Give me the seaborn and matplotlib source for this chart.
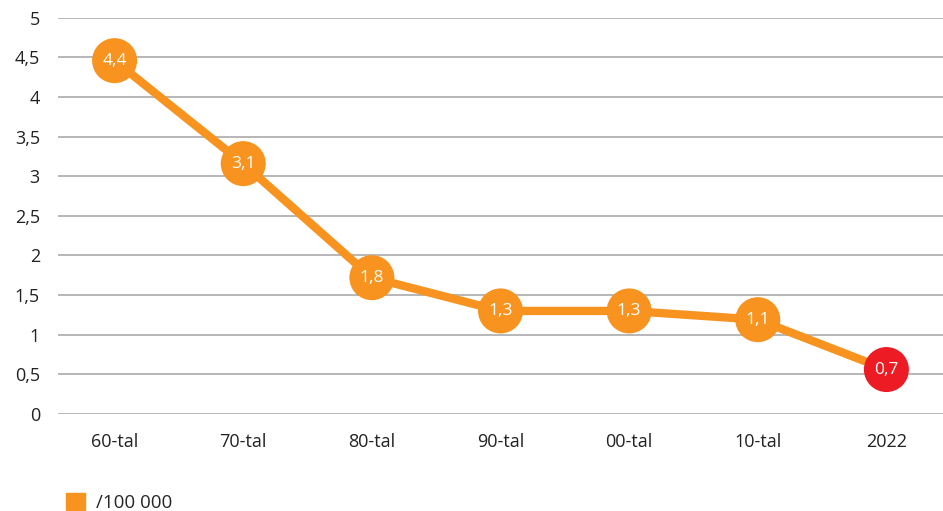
import pandas as pd
import numpy as np
import matplotlib
matplotlib.use('Agg')
import matplotlib.pyplot as plt
import seaborn as sns
from matplotlib.patches import Patch

decades = ['60-tal', '70-tal', '80-tal', '90-tal', '00-tal', '10-tal', '2022']
rate = [4.46, 3.16, 1.72, 1.30, 1.30, 1.19, 0.56]
labels = ['4,4', '3,1', '1,8', '1,3', '1,3', '1,1', '0,7']
yticks = [0, 0.5, 1, 1.5, 2, 2.5, 3, 3.5, 4, 4.5, 5]

orange = '#F7931E'
red = '#ED1C24'

sns.set_style('white')
plt.rcParams['font.family'] = ['Open Sans', 'DejaVu Sans']

df = pd.DataFrame({'decade': decades, 'rate': rate, 'label': labels})
df['pos'] = np.arange(len(df))
df['kind'] = ['normal'] * (len(df) - 1) + ['last']

fig = plt.figure(figsize=(9.43, 5.11), dpi=100)
ax = fig.add_axes([0.0615, 0.19, 0.9385, 0.775])

sns.lineplot(data=df, x='pos', y='rate', color=orange, linewidth=6, ax=ax,
             solid_capstyle='butt', zorder=2)
sns.scatterplot(data=df, x='pos', y='rate', hue='kind',
                palette={'normal': orange, 'last': red}, s=1050,
                edgecolor='none', legend=False, ax=ax, zorder=3)
for _, r in df.iterrows():
    ax.text(r['pos'], r['rate'], r['label'], ha='center', va='center',
            color='white', fontsize=12.5, zorder=4)

ax.set_xlim(-0.44, 6.44)
ax.set_ylim(0, 5)
ax.set_yticks(yticks)
ax.set_yticklabels([f'{t:g}'.replace('.', ',') for t in yticks])
ax.set_xticks(df['pos'])
ax.set_xticklabels(decades)
ax.yaxis.grid(True, color='#aaaaaa', linewidth=1.2)
ax.set_axisbelow(True)
for s in ax.spines.values():
    s.set_visible(False)
ax.tick_params(axis='both', length=0, labelsize=13, colors='#222222')
ax.tick_params(axis='y', pad=13)
ax.tick_params(axis='x', pad=14)
ax.set_xlabel('')
ax.set_ylabel('')

fig.legend(handles=[Patch(color=orange, label='/100 000')], loc='lower left',
           bbox_to_anchor=(0.052, -0.035), frameon=False, fontsize=13.5,
           handlelength=1.0, handleheight=1.0, handletextpad=0.6)

fig.savefig('out.png', dpi=100)
